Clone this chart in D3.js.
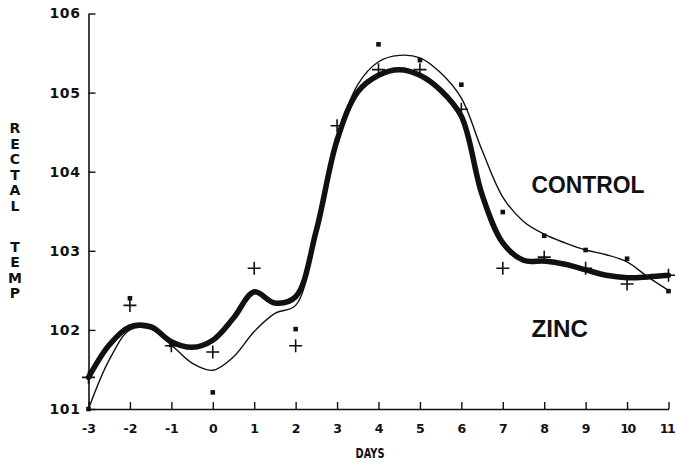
<!DOCTYPE html>
<html>
<head>
<meta charset="utf-8">
<script src="https://cdn.jsdelivr.net/npm/d3@7"></script>
<style>
html, body { margin: 0; padding: 0; background: #fff; }
svg { display: block; }
</style>
</head>
<body>
<div id="chart"></div>
<script>
// ---- Data ----
const days = [-3, -2, -1, 0, 1, 2, 3, 4, 5, 6, 7, 8, 9, 10, 11];
const controlTemp = [101.00, 102.40, 101.81, 101.21, 102.48, 102.01, 104.40, 105.61, 105.41, 105.10, 103.49, 103.19, 103.01, 102.90, 102.49];
const zincTemp    = [101.40, 102.31, 101.80, 101.72, 102.78, 101.80, 104.58, 105.29, 105.29, 104.79, 102.78, 102.92, 102.78, 102.58, 102.69];

// smoothed curves as drawn in the figure, read every half day
const fitDays = [-3, -2.5, -2, -1.5, -1, -0.5, 0, 0.5, 1, 1.5, 2, 2.5, 3, 3.5, 4, 4.5, 5, 5.5, 6, 6.5, 7, 7.5, 8, 8.5, 9, 9.5, 10, 10.5, 11];
const controlFit = [101.00, 101.62, 102.00, 102.01, 101.81, 101.58, 101.49, 101.66, 101.98, 102.21, 102.31, 103.24, 104.40, 105.10, 105.39, 105.47, 105.44, 105.25, 104.93, 104.27, 103.68, 103.37, 103.21, 103.10, 103.01, 102.95, 102.86, 102.67, 102.50];
const zincFit    = [101.40, 101.81, 102.04, 102.04, 101.85, 101.78, 101.87, 102.15, 102.48, 102.34, 102.42, 103.26, 104.40, 105.01, 105.22, 105.29, 105.22, 105.03, 104.70, 103.71, 103.10, 102.88, 102.87, 102.83, 102.76, 102.69, 102.66, 102.67, 102.69];

const xTicks = [-3, -2, -1, 0, 1, 2, 3, 4, 5, 6, 7, 8, 9, 10, 11];
const yTicks = [101, 102, 103, 104, 105, 106];
const yTitle = ["R", "E", "C", "T", "A", "L", "", "T", "E", "M", "P"];
const xTitle = "DAYS";
const seriesLabels = ["CONTROL", "ZINC"];

// ---- Layout ----
const W = 676, H = 465;
const svg = d3.select("#chart").append("svg").attr("width", W).attr("height", H);
svg.append("rect").attr("width", W).attr("height", H).attr("fill", "#fff");

const x = d3.scaleLinear().domain([-3, 11]).range([88.5, 668.5]);
const y = d3.scaleLinear().domain([101, 106]).range([409, 13.5]);

const ink = "#111";
const numFont = "'DejaVu Sans', sans-serif";

// axes
const gx = svg.append("g").attr("transform", `translate(0,${y(101)})`)
  .call(d3.axisBottom(x).tickValues(xTicks).tickFormat(d => String(d))
        .tickSize(-7).tickSizeOuter(0).tickPadding(15));
const gy = svg.append("g").attr("transform", `translate(${x(-3)},0)`)
  .call(d3.axisLeft(y).tickValues(yTicks).tickFormat(d => String(d))
        .tickSize(-7).tickSizeOuter(0).tickPadding(8));
[gx, gy].forEach(g => {
  g.select(".domain").attr("stroke", ink).attr("stroke-width", 1.6);
  g.selectAll(".tick line").attr("stroke", ink).attr("stroke-width", 1.4);
  g.selectAll(".tick text").attr("fill", ink).attr("font-family", numFont)
    .attr("font-weight", "bold");
});
gx.selectAll(".tick text").attr("font-size", 12.5)
  .attr("letter-spacing", d => d >= 10 ? -1.5 : 0)
  .attr("dx", d => d === 11 ? -2 : 0);
gy.selectAll(".tick text").attr("font-size", 14).attr("letter-spacing", 0.6);

// axis titles
svg.append("text").attr("x", 370).attr("y", 457.5).attr("text-anchor", "middle")
  .attr("font-family", numFont).attr("font-weight", "bold").attr("font-size", 14)
  .attr("textLength", 29).attr("lengthAdjust", "spacingAndGlyphs")
  .attr("fill", ink).text(xTitle);

const yTitlePos = [128, 143.5, 159, 174.5, 190, 205.5, null, 247, 262, 277.5, 293];
svg.append("g").selectAll("text").data(yTitle.map((c, i) => ({c, yy: yTitlePos[i]})).filter(d => d.c))
  .join("text")
  .attr("x", 15).attr("y", d => d.yy).attr("dy", "0.36em").attr("text-anchor", "middle")
  .attr("font-family", numFont).attr("font-weight", "bold").attr("font-size", 14)
  .attr("fill", ink).text(d => d.c);

// curves
const line = d3.line().x(d => x(d[0])).y(d => y(d[1])).curve(d3.curveCatmullRom.alpha(0.5));
svg.append("path").datum(fitDays.map((d, i) => [d, zincFit[i]]))
  .attr("d", line).attr("fill", "none").attr("stroke", ink)
  .attr("stroke-width", 5.5).attr("stroke-linejoin", "round").attr("stroke-linecap", "round");
svg.append("path").datum(fitDays.map((d, i) => [d, controlFit[i]]))
  .attr("d", line).attr("fill", "none").attr("stroke", ink)
  .attr("stroke-width", 1.4).attr("stroke-linejoin", "round");

// control points: small squares
svg.append("g").selectAll("rect").data(days.map((d, i) => [d, controlTemp[i]]))
  .join("rect")
  .attr("x", d => x(d[0]) - 2.3).attr("y", d => y(d[1]) - 2.3)
  .attr("width", 4.6).attr("height", 4.6).attr("fill", ink);

// zinc points: plus marks
svg.append("g").selectAll("path").data(days.map((d, i) => [d, zincTemp[i]]))
  .join("path")
  .attr("d", d => {
    const cx = x(d[0]), cy = y(d[1]), r = 6.5;
    return `M${cx - r},${cy}H${cx + r}M${cx},${cy - r}V${cy + r}`;
  })
  .attr("stroke", ink).attr("stroke-width", 1.6).attr("fill", "none");

// series labels
const labelFont = "'Liberation Sans', Arial, sans-serif";
svg.append("text").attr("x", 531.5).attr("y", 193.3)
  .attr("font-family", labelFont).attr("font-weight", "bold").attr("font-size", 24)
  .attr("textLength", 113).attr("lengthAdjust", "spacingAndGlyphs")
  .attr("fill", ink).text(seriesLabels[0]);
svg.append("text").attr("x", 531.5).attr("y", 336.7)
  .attr("font-family", labelFont).attr("font-weight", "bold").attr("font-size", 24)
  .attr("textLength", 56.5).attr("lengthAdjust", "spacingAndGlyphs")
  .attr("fill", ink).text(seriesLabels[1]);
</script>
</body>
</html>
